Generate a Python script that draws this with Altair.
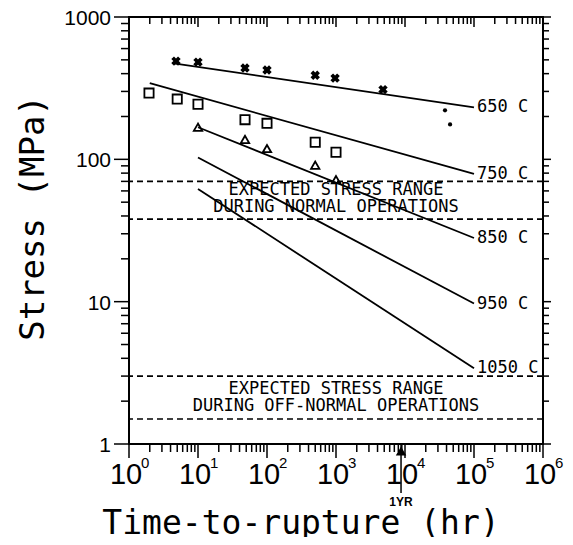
import altair as alt
import pandas as pd

# ---------------- data ----------------
# 650 C  (x markers)
t650 = [4.8, 10, 48, 100, 500, 970, 4800]
s650 = [490, 482, 438, 424, 390, 372, 309]
# 750 C  (open squares)
t750 = [1.95, 5, 10, 48, 100, 500, 1000]
s750 = [292, 265, 244, 190, 179, 132, 112]
# 850 C  (open triangles)
t850 = [10, 48, 100, 500, 1000]
s850 = [168, 138, 119, 91, 72]
# stray dark dots near the 650 C line end
dot_t = [38000, 45000]
dot_s = [221, 176]

# fitted lines (start / end)
line_lab = ["650 C", "750 C", "850 C", "950 C", "1050 C"]
line_t0 = [4.2, 2.0, 10, 10, 10]
line_s0 = [474, 343, 168, 103, 62]
line_t1 = [1e5, 1e5, 1e5, 1e5, 1e5]
line_s1 = [232, 79, 28, 9.7, 3.4]

# expected stress ranges (dashed bounds) and their captions
range_bounds = [70, 38, 3, 1.5]
cap_text = ["EXPECTED STRESS RANGE", "DURING NORMAL OPERATIONS",
            "EXPECTED STRESS RANGE", "DURING OFF-NORMAL OPERATIONS"]
cap_t = [1000, 1000, 1000, 1000]
cap_s = [60.5, 46, 2.44, 1.85]

x_exp = [0, 1, 2, 3, 4, 5, 6]
y_lab = ["1", "10", "100", "1000"]
y_val = [1, 10, 100, 1000]
one_year_hr = 8760

W, H = 414, 427

xs = alt.Scale(type="log", domain=[1, 1e6], nice=False)
ys = alt.Scale(type="log", domain=[1, 1000], nice=False)
X = alt.X("t:Q", scale=xs, axis=None)
Y = alt.Y("s:Q", scale=ys, axis=None)

MONO = "DejaVu Sans Mono"
NUM = "Liberation Sans Narrow, Liberation Sans"

# ---------------- tables ----------------
df650 = pd.DataFrame({"t": t650, "s": s650})
df750 = pd.DataFrame({"t": t750, "s": s750})
df850 = pd.DataFrame({"t": t850, "s": s850})
dfdot = pd.DataFrame({"t": dot_t, "s": dot_s})
rows = []
for lab, a, b, c, d in zip(line_lab, line_t0, line_s0, line_t1, line_s1):
    rows.append({"g": lab, "t": a, "s": b})
    rows.append({"g": lab, "t": c, "s": d})
dflines = pd.DataFrame(rows)
dfend = pd.DataFrame({"g": line_lab, "t": line_t1, "s": line_s1})
dfrange = pd.DataFrame({"s": range_bounds})
dfcap = pd.DataFrame({"txt": cap_text, "t": cap_t, "s": cap_s})

x_major = [10 ** k for k in x_exp]
x_minor = [m * 10 ** k for k in x_exp[:-1] for m in range(2, 10)]
y_major = y_val
y_minor = [m * 10 ** k for k in range(3) for m in range(2, 10)]

layers = []

# dashed range bounds
layers.append(alt.Chart(dfrange).mark_rule(color="black", strokeDash=[6, 4], strokeWidth=1.6)
              .encode(y=Y))
# lines
layers.append(alt.Chart(dflines).mark_line(color="black", strokeWidth=1.8)
              .encode(x=X, y=Y, detail="g:N"))
# points
layers.append(alt.Chart(df650).mark_point(shape="cross", angle=45, filled=True, color="black",
                                          size=90, opacity=1).encode(x=X, y=Y))
layers.append(alt.Chart(df750).mark_point(shape="square", filled=False, color="black",
                                          size=85, strokeWidth=1.8, opacity=1).encode(x=X, y=Y))
layers.append(alt.Chart(df850).mark_point(shape="triangle-up", filled=False, color="black",
                                          size=70, strokeWidth=1.8, opacity=1).encode(x=X, y=Y))
layers.append(alt.Chart(dfdot).mark_circle(color="black", size=18, opacity=1).encode(x=X, y=Y))
# line labels
layers.append(alt.Chart(dfend).mark_text(font=MONO, fontSize=17, align="left", baseline="middle",
                                         dx=3, color="black").encode(x=X, y=Y, text="g:N"))
# range captions
layers.append(alt.Chart(dfcap).mark_text(font=MONO, fontSize=17, align="center", baseline="middle",
                                         color="black").encode(x=X, y=Y, text="txt:N"))

# ticks
def xticks(vals, y0, y1):
    return alt.Chart(pd.DataFrame({"t": vals})).mark_rule(color="black", strokeWidth=1.5).encode(
        x=X, y=alt.value(y0), y2=alt.value(y1))

def yticks(vals, x0, x1):
    return alt.Chart(pd.DataFrame({"s": vals})).mark_rule(color="black", strokeWidth=1.5).encode(
        y=Y, x=alt.value(x0), x2=alt.value(x1))

layers += [
    xticks(x_minor, H, H + 8), xticks(x_major, H, H + 14),
    xticks(x_minor, 0, 7), xticks(x_major, 0, 10),
    yticks(y_minor, -8, 0), yticks(y_major, -15, 0),
    yticks(y_minor, W, W + 6), yticks(y_major, W, W + 8),
]

# y tick labels
layers.append(alt.Chart(pd.DataFrame({"s": y_val, "lab": y_lab})).mark_text(
    font="Liberation Sans", fontSize=21, align="right", baseline="middle", dy=2, color="black"
).encode(y=Y, x=alt.value(-18), text="lab:N"))

# x tick labels: "10" + exponent
dfx = pd.DataFrame({"t": x_major, "base": ["10"] * len(x_exp), "e": [str(k) for k in x_exp]})
layers.append(alt.Chart(dfx).mark_text(font=NUM, fontSize=29, align="center", baseline="alphabetic",
                                       dx=-3, color="black").encode(x=X, y=alt.value(H + 40), text="base:N"))
layers.append(alt.Chart(dfx).mark_text(font=NUM, fontSize=15, align="left", baseline="alphabetic",
                                       dx=12, color="black").encode(x=X, y=alt.value(H + 24), text="e:N"))

# one-year arrow
dfyr = pd.DataFrame({"t": [one_year_hr], "lab": ["1YR"]})
layers.append(alt.Chart(dfyr).mark_rule(color="black", strokeWidth=1.5).encode(
    x=X, y=alt.value(H), y2=alt.value(H + 49)))
layers.append(alt.Chart(dfyr).mark_point(shape="triangle-up", filled=True, color="black", size=110,
                                         opacity=1).encode(x=X, y=alt.value(H + 7)))
layers.append(alt.Chart(dfyr).mark_text(font="Liberation Sans", fontSize=12, fontWeight="bold",
                                        baseline="middle", color="black").encode(
    x=X, y=alt.value(H + 58), text="lab:N"))

# axis titles
layers.append(alt.Chart(pd.DataFrame({"lab": ["Time-to-rupture (hr)"]})).mark_text(
    font=MONO, fontSize=33, align="center", baseline="alphabetic", color="black"
).encode(x=alt.value(301 - 129), y=alt.value(H + 90), text="lab:N"))
layers.append(alt.Chart(pd.DataFrame({"lab": ["Stress (MPa)"]})).mark_text(
    font=MONO, fontSize=34, align="center", baseline="middle", angle=270, color="black"
).encode(x=alt.value(34 - 129), y=alt.value(218 - 17), text="lab:N"))

chart = alt.layer(*layers).properties(
    width=W, height=H,
    autosize=alt.AutoSizeParams(type="none"),
    padding={"left": 121, "top": 9, "right": 22, "bottom": 93},
    background="white",
).configure_view(stroke="black", strokeWidth=2)

chart.save("out.html", embed_options={"renderer": "svg", "actions": False})
